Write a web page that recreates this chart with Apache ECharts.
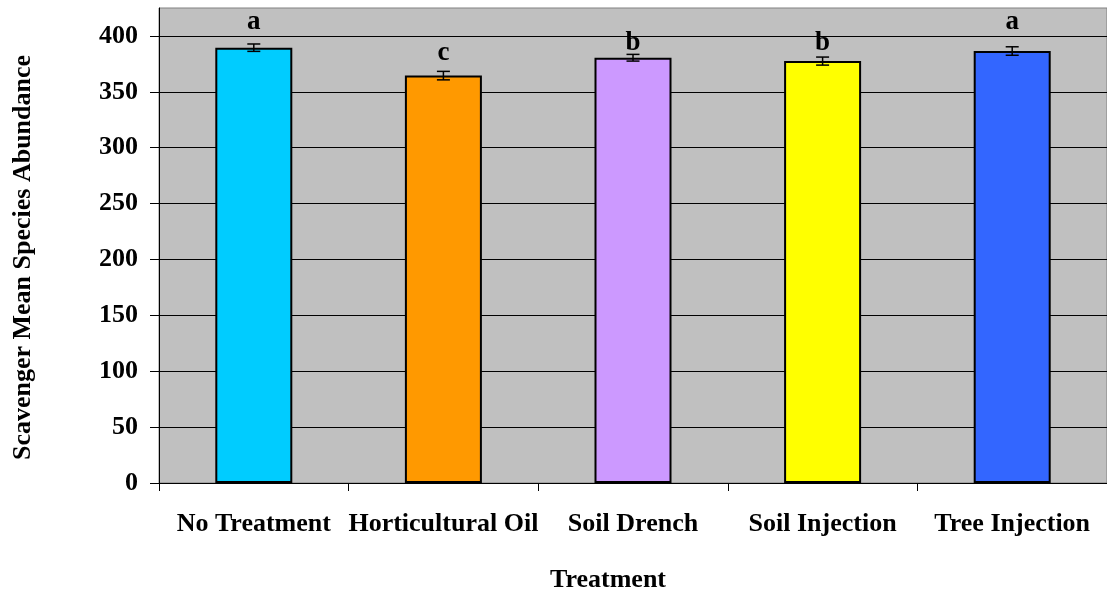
<!DOCTYPE html>
<html>
<head>
<meta charset="utf-8">
<script src="https://cdn.jsdelivr.net/npm/echarts@6/dist/echarts.min.js"></script>
<style>
html,body{margin:0;padding:0;background:#fff;}
#chart{width:1107px;height:598px;}
</style>
</head>
<body>
<div id="chart"></div>
<script>
// ---- data ----
const categories = ['No Treatment', 'Horticultural Oil', 'Soil Drench', 'Soil Injection', 'Tree Injection'];
const meanValues = [389.5, 364.5, 380.5, 377.5, 386.5];
const errorValues = [3.3, 3.8, 3.0, 3.6, 3.8];
const letters = ['a', 'c', 'b', 'b', 'a'];
const letterLevels = [412, 385, 394, 394, 412];
const yTicks = [0, 50, 100, 150, 200, 250, 300, 350, 400];
const barColors = ['#00CCFF', '#FF9900', '#CC99FF', '#FFFF00', '#3366FF'];

const FONT = 'Liberation Serif';
const chart = echarts.init(document.getElementById('chart'), null, {renderer: 'canvas'});

const errData = meanValues.map((v, i) => [i, v - errorValues[i], v + errorValues[i]]);
const letterData = letterLevels.map((v, i) => [i, v]);

chart.setOption({
  animation: false,
  backgroundColor: '#ffffff',
  grid: {
    left: 159, top: 8, width: 950, height: 476,
    show: true, backgroundColor: '#C0C0C0', borderColor: '#808080', borderWidth: 1
  },
  xAxis: {
    type: 'category',
    data: categories,
    name: 'Treatment',
    nameLocation: 'middle',
    nameGap: 84,
    nameTextStyle: {fontFamily: FONT, fontWeight: 'bold', fontSize: 26, color: '#000', padding: [0, 50, 0, 0]},
    axisLine: {show: true, lineStyle: {color: '#000', width: 1}},
    axisTick: {show: true, length: 8, lineStyle: {color: '#000'}},
    axisLabel: {fontFamily: FONT, fontWeight: 'bold', fontSize: 26, color: '#000', margin: 28, interval: 0},
    splitLine: {show: false}
  },
  yAxis: {
    type: 'value',
    min: 0, max: 425, interval: 50,
    name: 'Scavenger Mean Species Abundance',
    nameLocation: 'middle',
    nameGap: 123,
    nameTextStyle: {fontFamily: FONT, fontWeight: 'bold', fontSize: 26, color: '#000', padding: [0, 24, 0, 0]},
    axisLine: {show: true, lineStyle: {color: '#000', width: 1}},
    axisTick: {show: true, length: 9, lineStyle: {color: '#000'}, customValues: yTicks},
    axisLabel: {fontFamily: FONT, fontWeight: 'bold', fontSize: 26, color: '#000', margin: 21, customValues: yTicks},
    splitLine: {show: true, lineStyle: {color: '#000', width: 1}}
  },
  series: [
    {
      type: 'bar',
      data: meanValues,
      barWidth: 77,
      itemStyle: {
        color: p => barColors[p.dataIndex],
        borderColor: '#000',
        borderWidth: 2
      },
      z: 2
    },
    {
      type: 'custom',
      data: errData,
      z: 3,
      renderItem: function (params, api) {
        const x = api.value(0);
        const lo = api.coord([x, api.value(1)]);
        const hi = api.coord([x, api.value(2)]);
        const hw = 6.5;
        const st = {stroke: '#000', lineWidth: 1.5};
        return {
          type: 'group',
          children: [
            {type: 'line', shape: {x1: lo[0], y1: lo[1], x2: hi[0], y2: hi[1]}, style: st},
            {type: 'line', shape: {x1: lo[0] - hw, y1: lo[1], x2: lo[0] + hw, y2: lo[1]}, style: st},
            {type: 'line', shape: {x1: hi[0] - hw, y1: hi[1], x2: hi[0] + hw, y2: hi[1]}, style: st}
          ]
        };
      }
    },
    {
      type: 'custom',
      data: letterData,
      z: 4,
      renderItem: function (params, api) {
        const p = api.coord([api.value(0), api.value(1)]);
        return {
          type: 'text',
          x: p[0], y: p[1],
          style: {
            text: letters[params.dataIndex],
            fontFamily: FONT, fontWeight: 'bold', fontSize: 27,
            fill: '#000', align: 'center', verticalAlign: 'middle'
          }
        };
      }
    }
  ]
});
</script>
</body>
</html>
